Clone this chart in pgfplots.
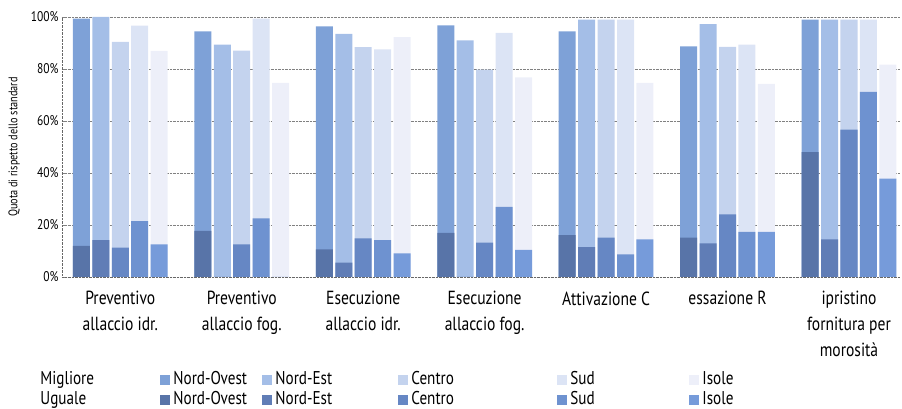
\documentclass[border=0pt]{standalone}
\usepackage{fontspec}
\setmainfont{PT Sans}[FakeStretch=0.82]
\usepackage{pgfplots}
\usepackage{pgfplotstable}
\pgfplotsset{compat=1.18}

\definecolor{mNO}{RGB}{126,161,215}
\definecolor{mNE}{RGB}{164,190,231}
\definecolor{mCE}{RGB}{196,211,238}
\definecolor{mSU}{RGB}{220,228,245}
\definecolor{mIS}{RGB}{237,239,249}
\definecolor{uNO}{RGB}{88,116,168}
\definecolor{uNE}{RGB}{96,125,182}
\definecolor{uCE}{RGB}{102,135,196}
\definecolor{uSU}{RGB}{110,146,208}
\definecolor{uIS}{RGB}{118,155,218}

% totale (migliore + uguale) e quota uguale, per ripartizione
\pgfplotstableread{
g NOt  NOu  NEt  NEu  Ct   Cu   St   Su   It   Iu
0 99.4 12.0 100  14.2 90.4 11.3 96.7 21.5 87.0 12.5
1 94.5 17.7 89.4 0    87.1 12.5 99.4 22.5 74.7 0
2 96.4 10.6 93.5 5.5  88.4 14.9 87.5 14.2 92.3 9.1
3 96.8 17.0 91.0 0    79.8 13.2 93.9 27.0 76.8 10.4
4 94.5 16.1 99.0 11.5 99.0 15.1 99.0 8.7  74.7 14.5
5 88.7 15.1 97.3 12.9 88.5 24.1 89.4 17.4 74.3 17.4
6 99.0 48.0 99.0 14.5 99.0 56.7 99.0 71.2 81.7 37.8
}\data

\begin{document}
\begin{tikzpicture}
\begin{axis}[
  scale only axis,
  width=838pt, height=260pt,
  xmin=-0.48, xmax=6.42,
  ymin=0, ymax=100,
  xtick={0,...,6},
  xticklabels={Preventivo\\allaccio idr., Preventivo\\allaccio fog., Esecuzione\\allaccio idr., Esecuzione\\allaccio fog., Attivazione C, essazione R, ipristino\\fornitura per\\morosità},
  xticklabel style={align=center, font=\fontsize{19}{26}\selectfont, yshift=-11pt},
  xtick style={draw=none},
  ytick={0,20,...,100},
  yticklabel={\pgfmathprintnumber{\tick}\%},
  yticklabel style={font=\fontsize{14}{16}\selectfont},
  /pgf/number format/assume math mode=true,
  major tick length=3pt,
  ytick style={gray},
  ymajorgrids,
  grid style={densely dotted, gray},
  axis x line*=bottom, axis y line*=left,
  axis line style={densely dotted, gray!80!black, -},
  ylabel={Quota di rispetto dello standard},
  every axis y label/.style={at={(axis description cs:-0.057,0.5)}, rotate=90, anchor=center, font=\fontsize{12.5}{14}\selectfont},
  legend image code/.code={\fill[#1] (0pt,-5pt) rectangle (10pt,5pt); \path (13pt,0pt);},
  legend columns=6,
  legend style={at={(axis description cs:-0.026,-0.364)}, anchor=north west,
    draw=none, fill=none, inner sep=0pt, row sep=3pt,
    font=\fontsize{18.5}{20}\selectfont,
    nodes={inner xsep=0pt, inner ysep=0pt, text height=13pt, text depth=4pt},
    /tikz/column 2/.style={text width=120pt},
    /tikz/column 4/.style={text width=89pt},
    /tikz/column 6/.style={text width=123pt},
    /tikz/column 8/.style={text width=146pt},
    /tikz/column 10/.style={text width=119pt}},
  legend cell align=left,
]
\addlegendimage{empty legend}\addlegendentry{Migliore}
\addlegendimage{fill=mNO, draw=none}\addlegendentry{Nord-Ovest}
\addlegendimage{fill=mNE, draw=none}\addlegendentry{Nord-Est}
\addlegendimage{fill=mCE, draw=none}\addlegendentry{Centro}
\addlegendimage{fill=mSU, draw=none}\addlegendentry{Sud}
\addlegendimage{fill=mIS, draw=none}\addlegendentry{Isole}
\addlegendimage{empty legend}\addlegendentry{Uguale}
\addlegendimage{fill=uNO, draw=none}\addlegendentry{Nord-Ovest}
\addlegendimage{fill=uNE, draw=none}\addlegendentry{Nord-Est}
\addlegendimage{fill=uCE, draw=none}\addlegendentry{Centro}
\addlegendimage{fill=uSU, draw=none}\addlegendentry{Sud}
\addlegendimage{fill=uIS, draw=none}\addlegendentry{Isole}

\addplot[ybar, bar width=0.14, bar shift=-0.32, fill=mNO, draw=none, forget plot] table[x=g, y=NOt]{\data};
\addplot[ybar, bar width=0.14, bar shift=-0.32, fill=uNO, draw=none, forget plot] table[x=g, y=NOu]{\data};
\addplot[ybar, bar width=0.14, bar shift=-0.16, fill=mNE, draw=none, forget plot] table[x=g, y=NEt]{\data};
\addplot[ybar, bar width=0.14, bar shift=-0.16, fill=uNE, draw=none, forget plot] table[x=g, y=NEu]{\data};
\addplot[ybar, bar width=0.14, bar shift=0, fill=mCE, draw=none, forget plot] table[x=g, y=Ct]{\data};
\addplot[ybar, bar width=0.14, bar shift=0, fill=uCE, draw=none, forget plot] table[x=g, y=Cu]{\data};
\addplot[ybar, bar width=0.14, bar shift=0.16, fill=mSU, draw=none, forget plot] table[x=g, y=St]{\data};
\addplot[ybar, bar width=0.14, bar shift=0.16, fill=uSU, draw=none, forget plot] table[x=g, y=Su]{\data};
\addplot[ybar, bar width=0.14, bar shift=0.32, fill=mIS, draw=none, forget plot] table[x=g, y=It]{\data};
\addplot[ybar, bar width=0.14, bar shift=0.32, fill=uIS, draw=none, forget plot] table[x=g, y=Iu]{\data};
\end{axis}
\path ([xshift=-62pt,yshift=-130pt]current axis.south west) rectangle ([xshift=2pt,yshift=17pt]current axis.north east);
\end{tikzpicture}
\end{document}
